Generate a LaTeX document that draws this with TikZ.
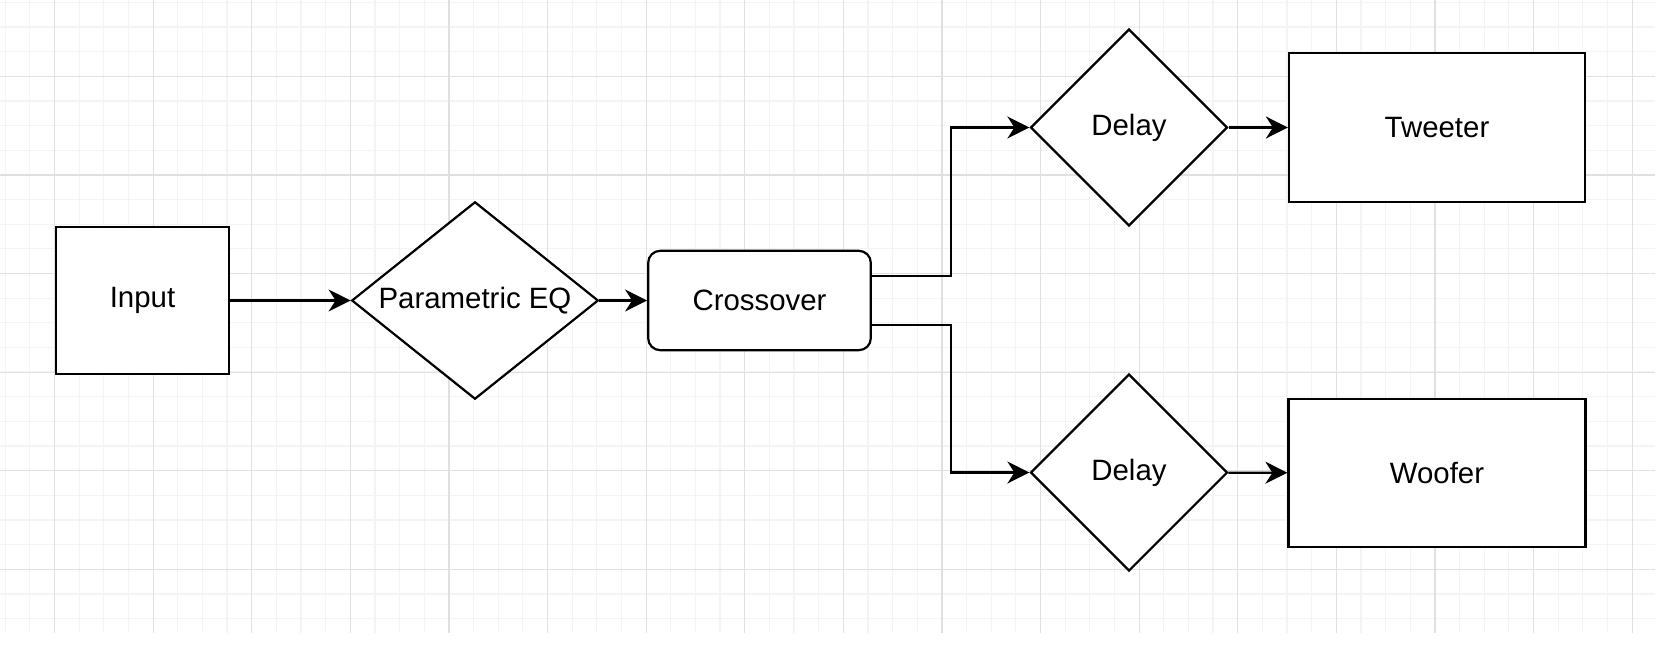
\documentclass[tikz,border=0pt]{standalone}
\usepackage{fontspec}
\setmainfont{Liberation Sans}
\usetikzlibrary{shapes.geometric,arrows.meta}

\definecolor{gridMajor}{HTML}{E0E0E0}
\definecolor{gridMinor}{HTML}{F4F4F4}

\begin{document}
\begin{tikzpicture}[x=0.5pt, y=-0.5pt,
    box/.style={draw, fill=white, line width=1.1pt, inner sep=0pt,
        font=\fontsize{14.7pt}{17pt}\selectfont},
    block/.style={box, rectangle},
    decision/.style={box, diamond, aspect=1},
    filter/.style={box, rectangle, rounded corners=6pt},
    link/.style={line width=1.1pt, -{Stealth[length=11pt, width=11pt, inset=3.5pt]}},
    minorLine/.style={gridMinor, line width=0.6pt},
    majorLine/.style={gridMajor, line width=0.6pt}]
    \useasboundingbox (0,0) rectangle (1662,648);

    % Draw the grid
    \foreach \i in {0,...,66} \draw[minorLine] ({5.2+\i*24.65},0) -- ({5.2+\i*24.65},632.7);
    \foreach \i in {0,...,25} \draw[minorLine] (0,{2.3+\i*24.65}) -- (1655,{2.3+\i*24.65});
    \foreach \i in {0,...,16} \draw[majorLine] ({54.5+\i*98.6},0) -- ({54.5+\i*98.6},632.7);
    \foreach \i in {0,...,5} \draw[majorLine] (0,{76.3+\i*98.6}) -- (1655,{76.3+\i*98.6});

    % Define the positions of the blocks
    \coordinate (inputPos) at (142.5, 300.5);
    \coordinate (eqPos) at (475, 300.5);
    \coordinate (crossPos) at (759.5, 300.5);
    \coordinate (delayTopPos) at (1129, 127.5);
    \coordinate (delayBotPos) at (1129, 472.5);
    \coordinate (tweeterPos) at (1437, 127.5);
    \coordinate (wooferPos) at (1437, 473);

    % Draw the blocks
    \node[block, minimum width=86.5pt, minimum height=73.5pt] (input) at (inputPos) {Input};
    \node[decision, aspect=1.25, minimum width=123.3pt, minimum height=98.7pt] (eq) at (eqPos) {Parametric EQ};
    \node[filter, minimum width=111.3pt, minimum height=49.7pt] (cross) at (crossPos) {Crossover};
    \node[decision, minimum width=98.5pt, minimum height=98.5pt] (delayTop) at (delayTopPos) {Delay};
    \node[decision, minimum width=98.5pt, minimum height=98.5pt] (delayBot) at (delayBotPos) {Delay};
    \node[block, minimum width=148pt, minimum height=74.2pt] (tweeter) at (tweeterPos) {Tweeter};
    \node[block, minimum width=148.5pt, minimum height=73.9pt] (woofer) at (wooferPos) {Woofer};

    % Draw the signal path
    \draw[link] (input) -- (eq);
    \draw[link] (eq) -- (cross);
    \draw[link] ([yshift=12.4pt]cross.east) -- ++(39.5pt,0) |- (delayTop);
    \draw[link] ([yshift=-12.4pt]cross.east) -- ++(39.5pt,0) |- (delayBot);
    \draw[link] (delayTop) -- (tweeter);
    \draw[link] (delayBot) -- (woofer);
\end{tikzpicture}
\end{document}
